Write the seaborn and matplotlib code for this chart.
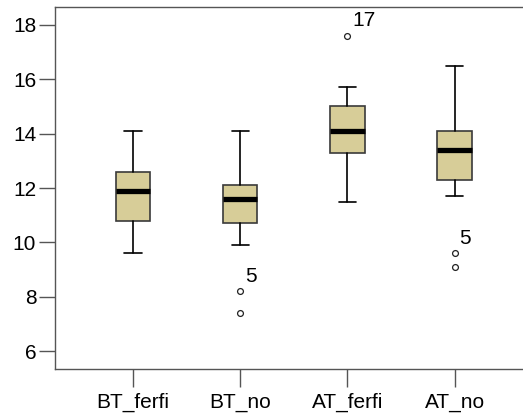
import matplotlib
matplotlib.use('Agg')
import matplotlib.pyplot as plt
import seaborn as sns

# five-number summaries
groups = ['BT_ferfi', 'BT_no', 'AT_ferfi', 'AT_no']
whisker_low = [9.6, 9.9, 11.5, 11.7]
q1 = [10.8, 10.7, 13.3, 12.3]
median = [11.9, 11.6, 14.1, 13.4]
q3 = [12.6, 12.1, 15.0, 14.1]
whisker_high = [14.1, 14.1, 15.7, 16.5]
outliers = [[], [8.2, 7.4], [17.6], [9.6, 9.1]]
outlier_labels = [None, '5', '17', '5']

sns.set_style('white')
plt.rcParams['font.family'] = ['Liberation Sans', 'DejaVu Sans']
plt.rcParams['text.color'] = 'black'
plt.rcParams['xtick.color'] = 'black'
plt.rcParams['ytick.color'] = 'black'

stats = []
for i, g in enumerate(groups):
    stats.append({'label': g, 'whislo': whisker_low[i], 'q1': q1[i], 'med': median[i],
                  'q3': q3[i], 'whishi': whisker_high[i], 'fliers': outliers[i]})

fig = plt.figure(figsize=(5.23, 4.18), dpi=100)
ax = fig.add_axes([55 / 523, 49 / 418, 480 / 523, 362 / 418])

ax.bxp(stats, positions=range(len(groups)), widths=0.32, patch_artist=True,
       boxprops=dict(facecolor='#D7CD98', edgecolor='#3a3a3a', linewidth=1.2),
       medianprops=dict(color='black', linewidth=3.8, solid_capstyle='butt'),
       whiskerprops=dict(color='black', linewidth=1.2),
       capprops=dict(color='black', linewidth=1.2), capwidths=0.16,
       flierprops=dict(marker='o', markersize=4.2, markerfacecolor='white',
                       markeredgecolor='#222222', markeredgewidth=0.9))

for i, lab in enumerate(outlier_labels):
    if lab:
        ax.annotate(lab, xy=(i, outliers[i][0]), xytext=(3.5, 7), textcoords='offset points',
                    ha='left', va='baseline', fontsize=15)

ax.set_xlim(-0.727, 3.75)
ax.set_ylim(5.34, 18.66)
ax.set_yticks([6, 8, 10, 12, 14, 16, 18])
ax.set_xticks(range(len(groups)))
ax.set_xticklabels(groups)

for side in ['left', 'bottom', 'top']:
    ax.spines[side].set_color('#555555')
    ax.spines[side].set_linewidth(1.0)
ax.spines['right'].set_visible(False)

ax.tick_params(axis='y', left=True, length=11.5, width=1.0, color='#555555',
               labelcolor='black', labelsize=15, pad=2)
ax.tick_params(axis='x', bottom=True, length=13, width=1.0, color='#555555',
               labelcolor='black', labelsize=15, pad=4)

fig.savefig('out.png', dpi=100)
